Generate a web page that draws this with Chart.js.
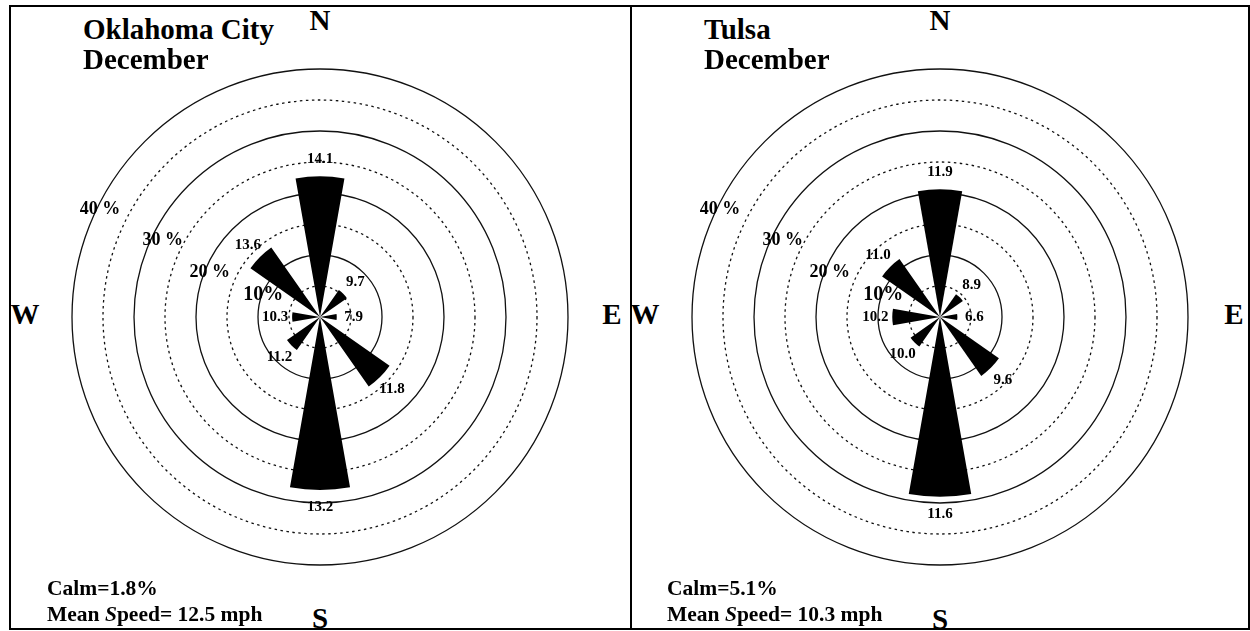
<!DOCTYPE html>
<html><head><meta charset="utf-8">
<script src="https://cdn.jsdelivr.net/npm/chart.js@4.4.1/dist/chart.umd.min.js"></script>
<style>
html,body{margin:0;padding:0;background:#fff;width:1250px;height:631px;overflow:hidden;}
body{position:relative;font-family:"Liberation Serif","DejaVu Serif",serif;color:#000;font-weight:bold;}
.panel{position:absolute;border:2px solid #000;box-sizing:border-box;}
.t{position:absolute;white-space:nowrap;line-height:1;}
.c{transform:translateX(-50%);}
canvas{position:absolute;}
</style></head><body>
<div class="panel" style="left:9px;top:5px;width:623px;height:625px;"></div>
<div class="panel" style="left:630px;top:5px;width:620px;height:625px;"></div>

<canvas id="okc" width="520" height="520" style="left:60px;top:57px;"></canvas>
<canvas id="tul" width="520" height="520" style="left:680px;top:57px;"></canvas>

<div class="t" style="left:83px;top:15px;font-size:29px;">Oklahoma City</div>
<div class="t" style="left:83px;top:45px;font-size:29px;">December</div>
<div class="t" style="left:704px;top:15px;font-size:29px;">Tulsa</div>
<div class="t" style="left:704px;top:45px;font-size:29px;">December</div>

<div class="t c" style="left:320px;top:6px;font-size:29px;">N</div>
<div class="t c" style="left:25px;top:300px;font-size:29px;">W</div>
<div class="t c" style="left:612px;top:300px;font-size:29px;">E</div>
<div class="t c" style="left:320px;top:604px;font-size:29px;">S</div>

<div class="t c" style="left:940px;top:6px;font-size:29px;">N</div>
<div class="t c" style="left:645px;top:300px;font-size:29px;">W</div>
<div class="t c" style="left:1234px;top:300px;font-size:29px;">E</div>
<div class="t c" style="left:940px;top:605px;font-size:29px;">S</div>

<div class="t" style="left:47px;top:578px;font-size:21.5px;">Calm=1.8%</div>
<div class="t" style="left:47px;top:604px;font-size:21.5px;">Mean <i>S</i>peed= 12.5 mph</div>
<div class="t" style="left:667px;top:578px;font-size:21.5px;">Calm=5.1%</div>
<div class="t" style="left:667px;top:604px;font-size:21.5px;">Mean <i>S</i>peed= 10.3 mph</div>

<script>
// ---- data ----
const directions = ['N','NE','E','SE','S','SW','W','NW'];
const okcFreq  = [22.7, 5.3, 2.7, 13.7, 27.9, 6.5, 4.5, 13.7];   // % of time
const okcSpeed = ['14.1','9.7','7.9','11.8','13.2','11.2','10.3','13.6']; // mph
const tulFreq  = [20.6, 4.5, 2.8, 11.6, 29.0, 5.8, 7.7, 11.4];
const tulSpeed = ['11.9','8.9','6.6','9.6','11.6','10.0','10.2','11.0'];
const ringValues = [10, 20, 30, 40];
const ringLabels = ['10%', '20 %', '30 %', '40 %'];

// ---- styling / placement (not data) ----
const WEDGE_DEG = 20, GAP_DEG = 25;
const ringLabelPlace = [
  {at: 9.8,  deg: 21, size: 20},
  {at: 19.2, deg: 22, size: 18},
  {at: 28.2, deg: 26, size: 18},
  {at: 39.5, deg: 26, size: 18}
];
const SPEED_GAP = 17;

const roseLabels = {
  id: 'roseLabels',
  afterDatasetsDraw(chart, args, opts) {
    const s = chart.scales.r, ctx = chart.ctx;
    ctx.save();
    ctx.fillStyle = '#000';
    ctx.textAlign = 'center';
    ctx.textBaseline = 'middle';
    ringValues.forEach((v, i) => {
      const p = ringLabelPlace[i];
      const r = s.getDistanceFromCenterForValue(p.at);
      const a = p.deg * Math.PI / 180;
      ctx.font = 'bold ' + p.size + 'px "Liberation Serif"';
      ctx.fillText(ringLabels[i], s.xCenter - r * Math.cos(a), s.yCenter - r * Math.sin(a));
    });
    ctx.font = 'bold 15px "Liberation Serif"';
    opts.freq.forEach((f, i) => {
      const b = i * 45 * Math.PI / 180;
      const r = s.getDistanceFromCenterForValue(f) + SPEED_GAP;
      ctx.fillText(opts.speed[i], s.xCenter + r * Math.sin(b), s.yCenter - r * Math.cos(b));
    });
    ctx.restore();
  }
};

function makeRose(id, freq, speed) {
  const values = [], angles = [], labels = [];
  directions.forEach((d, i) => {
    values.push(freq[i]); angles.push(WEDGE_DEG); labels.push(d);
    values.push(0); angles.push(GAP_DEG); labels.push('');
  });
  new Chart(document.getElementById(id), {
    type: 'polarArea',
    data: {
      labels: labels,
      datasets: [{
        data: values,
        angle: angles,
        backgroundColor: '#000',
        borderWidth: 0
      }]
    },
    options: {
      responsive: false,
      animation: false,
      layout: {padding: 12},
      plugins: {
        legend: {display: false},
        tooltip: {enabled: false},
        roseLabels: {freq: freq, speed: speed}
      },
      scales: {
        r: {
          min: 0, max: 40,
          startAngle: -WEDGE_DEG / 2,
          ticks: {display: false, stepSize: 5},
          angleLines: {display: false},
          pointLabels: {display: false},
          grid: {circular: true, color: '#111', lineWidth: 1.3},
          border: {dash: (c) => (c.tick && c.tick.value % 10 === 0) ? [] : [2.5, 3.5]}
        }
      }
    },
    plugins: [roseLabels]
  });
}

makeRose('okc', okcFreq, okcSpeed);
makeRose('tul', tulFreq, tulSpeed);
</script>
</body></html>
